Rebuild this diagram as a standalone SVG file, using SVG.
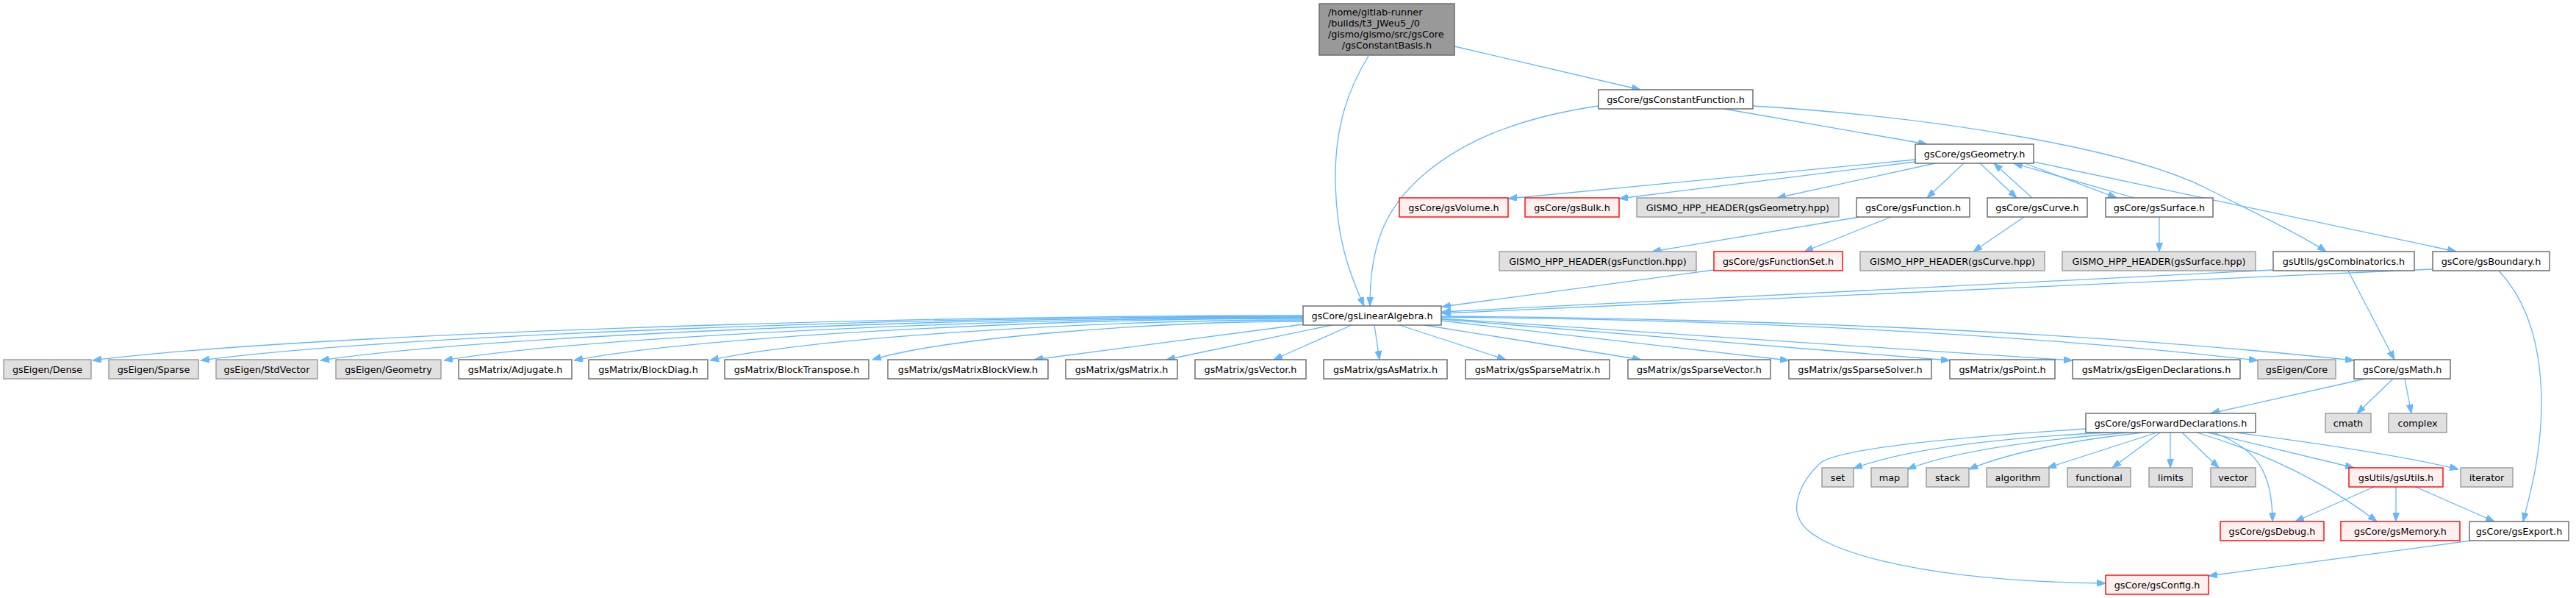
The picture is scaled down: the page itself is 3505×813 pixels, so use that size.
<svg xmlns="http://www.w3.org/2000/svg" width="3505" height="813" viewBox="0 0 3505 813">
<defs>
<marker id="a" markerUnits="userSpaceOnUse" markerWidth="12" markerHeight="9" refX="12" refY="4.5" orient="auto" viewBox="0 0 12 9"><path d="M0,0 L12,4.5 L0,9 z" fill="#63b8ff" stroke="#63b8ff" stroke-width="1"/></marker>
</defs>
<style>
.n rect{fill:#ffffff;stroke:#666666;stroke-width:1.4}
.g rect{fill:#e0e0e0;stroke:#999999;stroke-width:1.4}
.r rect{fill:#fff0f0;stroke:#ff0000;stroke-width:1.4}
.rt rect{fill:#999999;stroke:#666666;stroke-width:1.4}
text{font-family:"DejaVu Sans","Liberation Sans",sans-serif;font-size:12.8px;fill:#000000;text-anchor:middle}
.lt{text-anchor:start}
#edges path{fill:none;stroke:#63b8ff;stroke-width:1.3;marker-end:url(#a)}
</style>
<rect width="3505" height="813" fill="#ffffff"/>
<g id="edges">
<path d="M1979,63 L2232,122"/>
<path d="M1862,76 C1835,120 1817,170 1817,240 C1817,320 1835,370 1856,416"/>
<path d="M2175,144 C2080,158 2000,185 1940,235 C1880,285 1864,340 1864,416"/>
<path d="M2346,148 L2622,196"/>
<path d="M2385,144 C2650,160 2900,205 3000,255 C3080,295 3140,325 3165,342"/>
<path d="M2606,217 L2052,270"/>
<path d="M2606,220 L2203,270"/>
<path d="M2633,222 L2418,269"/>
<path d="M2672,222 L2622,269"/>
<path d="M2694,222 L2744,269"/>
<path d="M2765,269 L2713,222"/>
<path d="M2755,222 L2880,269"/>
<path d="M2904,269 L2740,222"/>
<path d="M2767,220 L3342,342"/>
<path d="M2530,295 L2248,342"/>
<path d="M2573,295 L2455,342"/>
<path d="M2754,295 L2685,342"/>
<path d="M2938,295 L2938,342"/>
<path d="M2332,367 L1962,417"/>
<path d="M3093,367 L1962,424"/>
<path d="M3310,366 L1962,426"/>
<path d="M3195,368 L3258,489"/>
<path d="M3400,368 C3430,400 3456,450 3458,540 C3459,620 3440,680 3433,709"/>
<path d="M1773,429 C1197,429 406,455 126,490"/>
<path d="M1773,430 C1248,430 528,456 273,490"/>
<path d="M1773,431 C1305,431 663,456 436,490"/>
<path d="M1773,432 C1364,432 803,457 604,490"/>
<path d="M1773,433 C1426,433 950,457 781,490"/>
<path d="M1773,435 C1491,435 1103,459 966,490"/>
<path d="M1773,437 C1568,437 1287,459 1187,489"/>
<path d="M1773,441 L1407,489"/>
<path d="M1812,442 L1587,489"/>
<path d="M1839,442 L1733,489"/>
<path d="M1870,442 L1877,489"/>
<path d="M1904,442 L2049,489"/>
<path d="M1938,442 L2233,489"/>
<path d="M1961,436 L2434,490"/>
<path d="M1961,434 L2653,490"/>
<path d="M1961,433 L2820,490"/>
<path d="M1961,431 Q2600,437 3072,490"/>
<path d="M1961,430 Q2700,436 3203,490"/>
<path d="M3218,515 L3008,562"/>
<path d="M3256,515 L3207,562"/>
<path d="M3272,515 L3281,562"/>
<path d="M2838,583 C2650,595 2500,610 2476,630 C2445,660 2440,690 2448,705 C2462,745 2600,790 2865,793"/>
<path d="M2870,588 Q2620,600 2522,637"/>
<path d="M2897,588 Q2680,605 2595,638"/>
<path d="M2916,588 Q2760,605 2679,638"/>
<path d="M2935,588 L2786,636"/>
<path d="M2939,588 L2874,636"/>
<path d="M2953,588 L2953,636"/>
<path d="M2969,588 L3019,636"/>
<path d="M3004,588 L3203,636"/>
<path d="M3042,588 Q3250,615 3345,638"/>
<path d="M3012,588 C3070,610 3092,640 3092,709"/>
<path d="M2989,588 Q3130,630 3234,709"/>
<path d="M3230,662 L3123,709"/>
<path d="M3260,662 L3260,709"/>
<path d="M3287,662 L3394,709"/>
<path d="M3362,735 L3005,783"/>
</g>
<g id="root" class="rt"><rect x="1795" y="5" width="184" height="70"/><text class="lt" x="1807" y="21">/home/gitlab-runner</text><text class="lt" x="1807" y="36">/builds/t3_JWeu5_/0</text><text class="lt" x="1807" y="51">/gismo/gismo/src/gsCore</text><text x="1887" y="66">/gsConstantBasis.h</text></g>
<g id="cf" class="n"><rect x="2175" y="122" width="210" height="26"/><text x="2280" y="139.5">gsCore/gsConstantFunction.h</text></g>
<g id="geo" class="n"><rect x="2606" y="196" width="161" height="26"/><text x="2686.5" y="213.5">gsCore/gsGeometry.h</text></g>
<g id="vol" class="r"><rect x="1904" y="269" width="148" height="26"/><text x="1978" y="286.5">gsCore/gsVolume.h</text></g>
<g id="bulk" class="r"><rect x="2075" y="269" width="128" height="26"/><text x="2139" y="286.5">gsCore/gsBulk.h</text></g>
<g id="ghg" class="g"><rect x="2227" y="269" width="275" height="26"/><text x="2364.5" y="286.5">GISMO_HPP_HEADER(gsGeometry.hpp)</text></g>
<g id="func" class="n"><rect x="2526" y="269" width="154" height="26"/><text x="2603" y="286.5">gsCore/gsFunction.h</text></g>
<g id="curve" class="n"><rect x="2704" y="269" width="136" height="26"/><text x="2772" y="286.5">gsCore/gsCurve.h</text></g>
<g id="surf" class="n"><rect x="2865" y="269" width="146" height="26"/><text x="2938" y="286.5">gsCore/gsSurface.h</text></g>
<g id="ghf" class="g"><rect x="2040" y="342" width="268" height="26"/><text x="2174" y="359.5">GISMO_HPP_HEADER(gsFunction.hpp)</text></g>
<g id="fset" class="r"><rect x="2332" y="342" width="175" height="26"/><text x="2419.5" y="359.5">gsCore/gsFunctionSet.h</text></g>
<g id="ghc" class="g"><rect x="2531" y="342" width="251" height="26"/><text x="2656.5" y="359.5">GISMO_HPP_HEADER(gsCurve.hpp)</text></g>
<g id="ghs" class="g"><rect x="2806" y="342" width="263" height="26"/><text x="2937.5" y="359.5">GISMO_HPP_HEADER(gsSurface.hpp)</text></g>
<g id="comb" class="n"><rect x="3093" y="342" width="192" height="26"/><text x="3189" y="359.5">gsUtils/gsCombinatorics.h</text></g>
<g id="bnd" class="n"><rect x="3310" y="342" width="159" height="26"/><text x="3389.5" y="359.5">gsCore/gsBoundary.h</text></g>
<g id="la" class="n"><rect x="1773" y="416" width="188" height="26"/><text x="1867" y="433.5">gsCore/gsLinearAlgebra.h</text></g>
<g id="dense" class="g"><rect x="5" y="489" width="119" height="26"/><text x="64.5" y="506.5">gsEigen/Dense</text></g>
<g id="sparse" class="g"><rect x="148" y="489" width="122" height="26"/><text x="209" y="506.5">gsEigen/Sparse</text></g>
<g id="stdvector" class="g"><rect x="294" y="489" width="138" height="26"/><text x="363" y="506.5">gsEigen/StdVector</text></g>
<g id="egeometry" class="g"><rect x="457" y="489" width="143" height="26"/><text x="528.5" y="506.5">gsEigen/Geometry</text></g>
<g id="adjugate" class="n"><rect x="624" y="489" width="154" height="26"/><text x="701" y="506.5">gsMatrix/Adjugate.h</text></g>
<g id="blockdiag" class="n"><rect x="801" y="489" width="162" height="26"/><text x="882" y="506.5">gsMatrix/BlockDiag.h</text></g>
<g id="blocktranspose" class="n"><rect x="986" y="489" width="196" height="26"/><text x="1084" y="506.5">gsMatrix/BlockTranspose.h</text></g>
<g id="blockview" class="n"><rect x="1208" y="489" width="218" height="26"/><text x="1317" y="506.5">gsMatrix/gsMatrixBlockView.h</text></g>
<g id="matrix" class="n"><rect x="1450" y="489" width="152" height="26"/><text x="1526" y="506.5">gsMatrix/gsMatrix.h</text></g>
<g id="vector" class="n"><rect x="1626" y="489" width="151" height="26"/><text x="1701.5" y="506.5">gsMatrix/gsVector.h</text></g>
<g id="asmatrix" class="n"><rect x="1801" y="489" width="168" height="26"/><text x="1885" y="506.5">gsMatrix/gsAsMatrix.h</text></g>
<g id="sparsematrix" class="n"><rect x="1994" y="489" width="196" height="26"/><text x="2092" y="506.5">gsMatrix/gsSparseMatrix.h</text></g>
<g id="sparsevector" class="n"><rect x="2215" y="489" width="194" height="26"/><text x="2312" y="506.5">gsMatrix/gsSparseVector.h</text></g>
<g id="sparsesolver" class="n"><rect x="2434" y="489" width="194" height="26"/><text x="2531" y="506.5">gsMatrix/gsSparseSolver.h</text></g>
<g id="point" class="n"><rect x="2653" y="489" width="143" height="26"/><text x="2724.5" y="506.5">gsMatrix/gsPoint.h</text></g>
<g id="eigendecl" class="n"><rect x="2820" y="489" width="228" height="26"/><text x="2934" y="506.5">gsMatrix/gsEigenDeclarations.h</text></g>
<g id="core" class="g"><rect x="3072" y="489" width="106" height="26"/><text x="3125" y="506.5">gsEigen/Core</text></g>
<g id="math" class="n"><rect x="3203" y="489" width="131" height="26"/><text x="3268.5" y="506.5">gsCore/gsMath.h</text></g>
<g id="fwd" class="n"><rect x="2838" y="562" width="231" height="26"/><text x="2953.5" y="579.5">gsCore/gsForwardDeclarations.h</text></g>
<g id="cmath" class="g"><rect x="3164" y="562" width="62" height="26"/><text x="3195" y="579.5">cmath</text></g>
<g id="complex" class="g"><rect x="3250" y="562" width="79" height="26"/><text x="3289.5" y="579.5">complex</text></g>
<g id="set" class="g"><rect x="2479" y="636" width="43" height="26"/><text x="2500.5" y="653.5">set</text></g>
<g id="map" class="g"><rect x="2546" y="636" width="50" height="26"/><text x="2571" y="653.5">map</text></g>
<g id="stack" class="g"><rect x="2621" y="636" width="58" height="26"/><text x="2650" y="653.5">stack</text></g>
<g id="algorithm" class="g"><rect x="2703" y="636" width="85" height="26"/><text x="2745.5" y="653.5">algorithm</text></g>
<g id="functional" class="g"><rect x="2813" y="636" width="86" height="26"/><text x="2856" y="653.5">functional</text></g>
<g id="limits" class="g"><rect x="2924" y="636" width="59" height="26"/><text x="2953.5" y="653.5">limits</text></g>
<g id="stdvec" class="g"><rect x="3008" y="636" width="61" height="26"/><text x="3038.5" y="653.5">vector</text></g>
<g id="utils" class="r"><rect x="3196" y="636" width="128" height="26"/><text x="3260" y="653.5">gsUtils/gsUtils.h</text></g>
<g id="iterator" class="g"><rect x="3348" y="636" width="71" height="26"/><text x="3383.5" y="653.5">iterator</text></g>
<g id="debug" class="r"><rect x="3021" y="709" width="141" height="26"/><text x="3091.5" y="726.5">gsCore/gsDebug.h</text></g>
<g id="memory" class="r"><rect x="3185" y="709" width="162" height="26"/><text x="3266" y="726.5">gsCore/gsMemory.h</text></g>
<g id="export" class="n"><rect x="3360" y="709" width="135" height="26"/><text x="3427.5" y="726.5">gsCore/gsExport.h</text></g>
<g id="config" class="r"><rect x="2865" y="782" width="140" height="26"/><text x="2935" y="799.5">gsCore/gsConfig.h</text></g>
</svg>
